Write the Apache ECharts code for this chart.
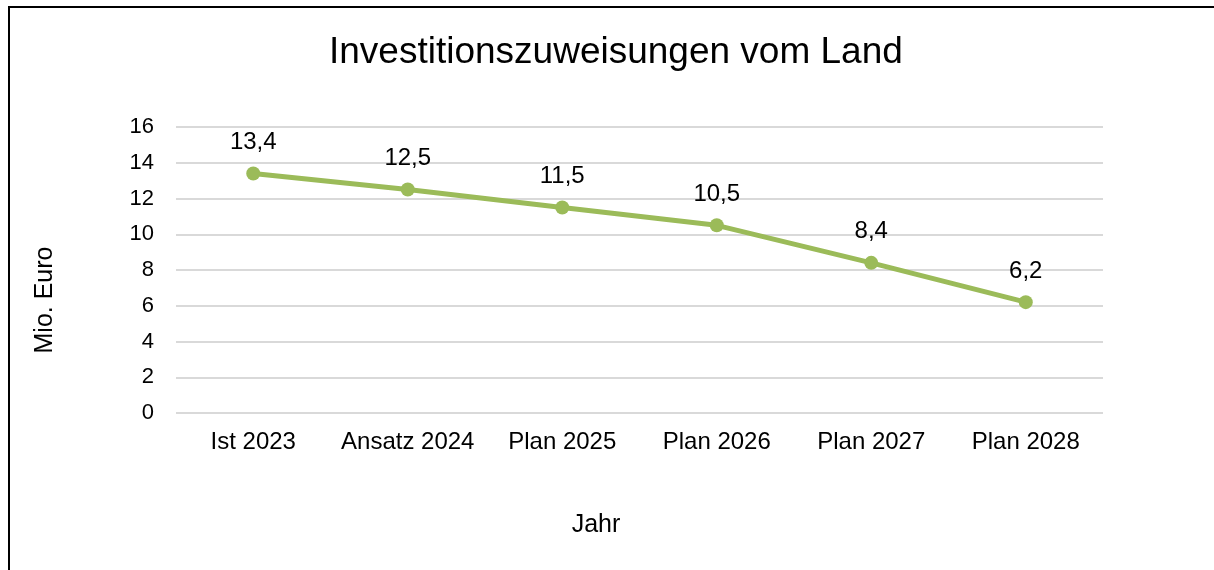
<!DOCTYPE html>
<html>
<head>
<meta charset="utf-8">
<script src="https://cdn.jsdelivr.net/npm/echarts@6/dist/echarts.min.js"></script>
<style>
  html, body { margin: 0; padding: 0; background: #fff; }
  #chart { width: 1214px; height: 570px; }
</style>
</head>
<body>
<div id="chart"></div>
<script>
// data
var categories = ['Ist 2023', 'Ansatz 2024', 'Plan 2025', 'Plan 2026', 'Plan 2027', 'Plan 2028']
var values = [13.4, 12.5, 11.5, 10.5, 8.4, 6.2]
var titleText = 'Investitionszuweisungen vom Land'
var yName = 'Mio. Euro'
var xName = 'Jahr'

var font = '"Liberation Sans", Arial, sans-serif'
var chart = echarts.init(document.getElementById('chart'))

chart.setOption({
  backgroundColor: '#fff',
  animation: false,
  title: {
    text: titleText,
    left: 324,
    top: 29,
    textStyle: { fontFamily: font, fontSize: 37, fontWeight: 'normal', color: '#000' }
  },
  grid: {
    left: 176,
    right: 111,
    top: 127,
    bottom: 157
  },
  xAxis: {
    type: 'category',
    data: categories,
    boundaryGap: true,
    axisLine: { show: false },
    axisTick: { show: false },
    axisLabel: { fontFamily: font, fontSize: 24, color: '#000', margin: 17, interval: 0 }
  },
  yAxis: {
    type: 'value',
    min: 0,
    max: 16,
    interval: 2,
    axisLine: { show: false },
    axisTick: { show: false },
    splitLine: { lineStyle: { color: '#d9d9d9', width: 2 } },
    axisLabel: { fontFamily: font, fontSize: 22, color: '#000', margin: 22 }
  },
  graphic: [
    // chart frame (top and left edges only)
    { type: 'line', shape: { x1: 8, y1: 7, x2: 1214, y2: 7 }, style: { stroke: '#000', lineWidth: 2 } },
    { type: 'line', shape: { x1: 9, y1: 7, x2: 9, y2: 570 }, style: { stroke: '#000', lineWidth: 2 } },
    {
      type: 'text', x: 45, y: 300, rotation: Math.PI / 2,
      style: { text: yName, font: '25px ' + font, fill: '#000', textAlign: 'center', textVerticalAlign: 'middle' }
    },
    {
      type: 'text', x: 596, y: 525,
      style: { text: xName, font: '25px ' + font, fill: '#000', textAlign: 'center', textVerticalAlign: 'middle' }
    }
  ],
  series: [{
    type: 'line',
    data: values,
    symbol: 'circle',
    symbolSize: 14,
    itemStyle: { color: '#9bbb59' },
    lineStyle: { color: '#9bbb59', width: 5 },
    label: {
      show: true,
      position: 'top',
      distance: 12,
      fontFamily: font,
      fontSize: 24,
      color: '#000',
      formatter: function (p) { return String(p.value).replace('.', ',') }
    }
  }]
})
</script>
</body>
</html>
